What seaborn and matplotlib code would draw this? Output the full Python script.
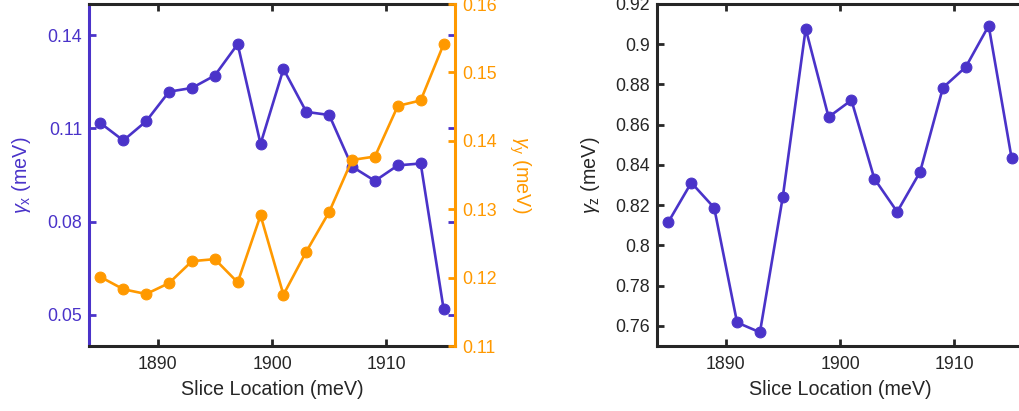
import numpy as np
import pandas as pd
import matplotlib
matplotlib.use("Agg")
import matplotlib.pyplot as plt
from matplotlib.ticker import FuncFormatter, FixedLocator
import seaborn as sns

# ---- data ----
slice_loc = [1885, 1887, 1889, 1891, 1893, 1895, 1897, 1899,
             1901, 1903, 1905, 1907, 1909, 1911, 1913, 1915]
gamma_x = [0.1117, 0.1061, 0.1123, 0.1218, 0.1230, 0.1270, 0.1371, 0.1050,
           0.1291, 0.1153, 0.1143, 0.0977, 0.0931, 0.0981, 0.0987, 0.0520]
gamma_y = [0.1201, 0.1183, 0.1176, 0.1192, 0.1224, 0.1227, 0.1193, 0.1291,
           0.1175, 0.1238, 0.1296, 0.1372, 0.1377, 0.1451, 0.1459, 0.1541]
gamma_z = [0.8117, 0.8312, 0.8187, 0.7617, 0.7568, 0.8242, 0.9077, 0.8638,
           0.8722, 0.8332, 0.8167, 0.8365, 0.8784, 0.8887, 0.9092, 0.8435]
x_ticks = [1890, 1900, 1910]
yx_ticks = [0.05, 0.08, 0.11, 0.14]
yy_ticks = [0.11, 0.12, 0.13, 0.14, 0.15, 0.16]
yz_ticks = [0.76, 0.78, 0.80, 0.82, 0.84, 0.86, 0.88, 0.90, 0.92]

df = pd.DataFrame({"x": slice_loc, "gx": gamma_x, "gy": gamma_y, "gz": gamma_z})

BLUE = "#4A33C9"
ORANGE = "#FF9900"
DARK = "#262626"

sns.set_style("white")
plt.rcParams["font.family"] = ["Liberation Sans", "DejaVu Sans"]
plt.rcParams["mathtext.fontset"] = "custom"
plt.rcParams["mathtext.rm"] = "Liberation Sans"
plt.rcParams["mathtext.it"] = "Liberation Sans:italic"

fig = plt.figure(figsize=(10.19, 4.11), dpi=100)
bottom = 1 - 346 / 411
height = (346 - 4) / 411
ax1 = fig.add_axes([89 / 1019, bottom, 366 / 1019, height])
ax2 = ax1.twinx()
ax3 = fig.add_axes([657 / 1019, bottom, 366 / 1019, height])

fmt = FuncFormatter(lambda v, p: f"{v:g}")
lw = 1.9
ms = 7.8
TICKFS = 12.8
LABFS = 14.2

sns.lineplot(data=df, x="x", y="gx", ax=ax1, color=BLUE, marker="o", markersize=ms,
             markeredgecolor=BLUE, linewidth=lw)
sns.lineplot(data=df, x="x", y="gy", ax=ax2, color=ORANGE, marker="o", markersize=ms,
             markeredgecolor=ORANGE, linewidth=lw)
sns.lineplot(data=df, x="x", y="gz", ax=ax3, color=BLUE, marker="o", markersize=ms,
             markeredgecolor=BLUE, linewidth=lw)

for ax in (ax1, ax2, ax3):
    ax.set_xlim(1884, 1916)
    ax.xaxis.set_major_locator(FixedLocator(x_ticks))
    for s in ax.spines.values():
        s.set_linewidth(2.2)
        s.set_color(DARK)

ax1.set_ylim(0.04, 0.15)
ax1.yaxis.set_major_locator(FixedLocator(yx_ticks))
ax1.yaxis.set_major_formatter(fmt)
ax2.set_ylim(0.11, 0.16)
ax2.yaxis.set_major_locator(FixedLocator(yy_ticks))
ax2.yaxis.set_major_formatter(fmt)
ax3.set_ylim(0.75, 0.92)
ax3.yaxis.set_major_locator(FixedLocator(yz_ticks))
ax3.yaxis.set_major_formatter(fmt)

# left panel ticks
ax1.tick_params(axis="x", which="both", direction="in", top=True, bottom=True,
                length=5, width=2, color=DARK, labelsize=TICKFS, labelcolor=DARK, pad=7)
ax1.tick_params(axis="y", direction="in", left=True, right=True, length=5, width=2,
                color=BLUE, labelsize=TICKFS, labelcolor=BLUE, pad=5)
ax2.tick_params(axis="y", direction="in", right=True, left=False, length=5, width=2,
                color=ORANGE, labelsize=TICKFS, labelcolor=ORANGE, pad=5)
ax2.tick_params(axis="x", bottom=False, top=False)
ax1.spines["left"].set_color(BLUE)
ax1.spines["right"].set_visible(False)
ax2.spines["right"].set_color(ORANGE)
ax2.spines["left"].set_visible(False)
ax2.spines["top"].set_visible(False)
ax2.spines["bottom"].set_visible(False)

ax3.tick_params(axis="x", direction="in", top=True, bottom=True, length=5, width=2,
                color=DARK, labelsize=TICKFS, labelcolor=DARK, pad=7)
ax3.tick_params(axis="y", direction="in", left=True, right=False, length=5, width=2,
                color=DARK, labelsize=TICKFS, labelcolor=DARK, pad=5)

ax1.set_xlabel("Slice Location (meV)", fontsize=LABFS, color=DARK, labelpad=5)
ax3.set_xlabel("Slice Location (meV)", fontsize=LABFS, color=DARK, labelpad=5)
ax1.set_ylabel(r"$\gamma_{\rm x}$ (meV)", fontsize=LABFS, color=BLUE, labelpad=10)
ax2.set_ylabel(r"$\gamma_{\rm y}$ (meV)", fontsize=LABFS, color=ORANGE, rotation=270,
               labelpad=26)
ax3.set_ylabel(r"$\gamma_{\rm z}$ (meV)", fontsize=LABFS, color=DARK, labelpad=10)

fig.savefig("out.png", dpi=100)
